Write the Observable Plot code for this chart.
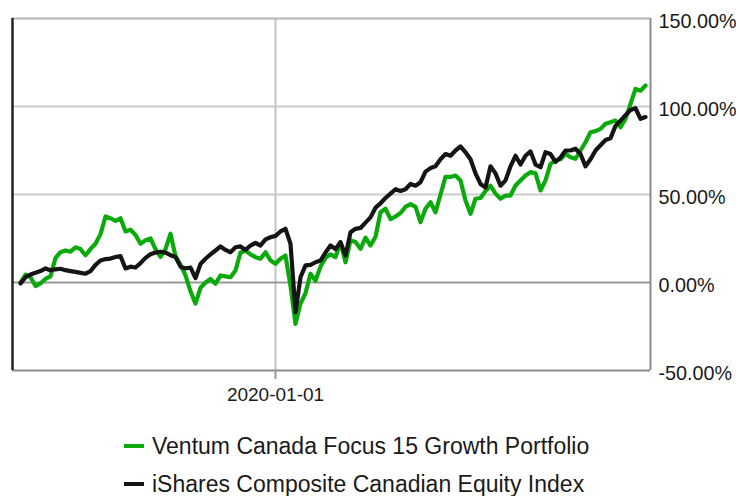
<!DOCTYPE html>
<html>
<head>
<meta charset="utf-8">
<script src="https://cdn.jsdelivr.net/npm/d3@7"></script>
<script src="https://cdn.jsdelivr.net/npm/@observablehq/plot@0.6"></script>
<style>
  html, body { margin: 0; padding: 0; background: #fff; }
  body { width: 736px; height: 496px; overflow: hidden; font-family: "Liberation Sans", Arial, sans-serif; }
  #legend { padding-left: 124px; padding-top: 12px; font-size: 23px; color: #1a1a1a; }
  .row { display: flex; align-items: center; height: 38px; white-space: nowrap; }
  .sw { display: inline-block; width: 20px; height: 4px; margin-right: 8px; }
</style>
</head>
<body>
<div id="chart"></div>
<div id="legend"></div>
<script>
const startDate = "2016-12-05";
const stepDays = 22;

const seriesNames = ["Ventum Canada Focus 15 Growth Portfolio", "iShares Composite Canadian Equity Index"];
const seriesColors = ["#0aaa0a", "#151515"];

// Cumulative return (%) - Ventum Canada Focus 15 Growth Portfolio
const fundValues = [
  0, 4.5, 3, -2, -0.5, 2, 3.5, 14, 17.2, 18.2,
  17.5, 20, 19, 15.5, 19, 22, 27.5, 37.5, 36.5, 35,
  36.5, 29, 30, 27, 22, 24, 25, 19, 14.5, 19,
  27.7, 15, 10, 4, -5, -12, -3, 0, 2, -0.7,
  4, 3.5, 3, 6.8, 17, 18, 16, 14.4, 13.5, 17.2,
  12.5, 10.6, 13.5, 15.3, -2, -23.5, -12, -6, 5, 1,
  9, 14, 16, 14.4, 22.9, 11.5, 23.9, 23, 19.1, 25.5,
  21, 26, 39.9, 41.9, 36, 37.5, 39.5, 43, 44.5, 43,
  34.3, 41.9, 45.6, 39.9, 50, 60, 60, 60.8, 58, 46.6,
  39, 47.6, 48, 52, 55, 50.5, 47.6, 49.4, 49.4, 55.1,
  58, 60.8, 62.7, 62, 52.3, 58, 67.4, 69.3, 70, 73.1,
  71.2, 70.3, 75, 79.7, 85.4, 86, 87.3, 90.2, 91.1, 92,
  88.2, 93, 101.5, 110, 109, 111.9
];

// Cumulative return (%) - iShares Composite Canadian Equity Index
const indexValues = [
  -0.5, 3, 4.5, 5.5, 6.5, 8, 7, 7.5, 7.8, 7,
  6.5, 6, 5.5, 5, 6.5, 10, 12.5, 13.3, 13.6, 14.5,
  15, 8, 9, 8.5, 11, 14, 16, 17, 17.5, 17,
  15.5, 14.5, 9, 8, 8.5, 2.5, 10.5, 13.5, 16, 18.2,
  20.5, 18.5, 17.2, 20, 20.5, 18.5, 21, 22.5, 21, 24.5,
  25.7, 26.5, 29, 30.5, 22, -16.9, 3, 9.7, 10, 11.5,
  12.5, 17, 21, 19, 22.9, 15.3, 28.5, 30.5, 31, 34,
  37, 42.5, 45, 48, 50.5, 53, 52, 53, 56, 55,
  57, 63, 65, 66, 70, 73, 72, 75, 77.3, 74,
  70, 62, 56, 54, 66, 62, 55, 58, 66, 72,
  67, 72, 74.5, 67, 65.5, 74, 73, 68.5, 71, 75,
  75, 76, 73, 66, 70, 75, 78, 81, 82, 89,
  92, 95, 98, 99, 93, 94
];

const yTicks = [-50, 0, 50, 100, 150];
const xTickLabels = ["2020-01-01"];
const yDomain = [-50, 150];

const t0 = new Date(startDate + "T00:00:00Z");
const DAY = 864e5;
const dateAt = i => new Date(+t0 + i * stepDays * DAY);
const fund = fundValues.map((v, i) => ({date: dateAt(i), value: v}));
const index = indexValues.map((v, i) => ({date: dateAt(i), value: v}));
const xDomain = [new Date(+t0 - 1.6 * stepDays * DAY), dateAt(126)];
const xTicks = xTickLabels.map(s => new Date(s + "T00:00:00Z"));

const font = '"Liberation Sans", Arial, sans-serif';

const chart = Plot.plot({
  width: 736,
  height: 415,
  marginLeft: 12,
  marginRight: 86,
  marginTop: 18,
  marginBottom: 45,
  style: {fontFamily: font, fontSize: "19px", color: "#1a1a1a", background: "#fff"},
  x: {type: "utc", domain: xDomain, label: null},
  y: {domain: yDomain, label: null},
  marks: [
    Plot.ruleX(xTicks, {stroke: "#c4c4c4", strokeWidth: 2}),
    Plot.ruleY([50, 100], {stroke: "#cccccc", strokeWidth: 2}),
    Plot.ruleY([150], {stroke: "#b4b4b4", strokeWidth: 2}),
    Plot.ruleY([0], {stroke: "#999999", strokeWidth: 2}),
    Plot.ruleY([-50], {stroke: "#8c8c8c", strokeWidth: 2}),
    Plot.ruleX([xDomain[1]], {stroke: "#8c8c8c", strokeWidth: 2}),
    Plot.axisX({ticks: xTicks, tickFormat: d3.utcFormat("%Y-%m-%d"), tickSize: 9, tickPadding: 8, stroke: "#999", strokeWidth: 2, fontSize: 19, label: null}),
    Plot.axisY({anchor: "right", ticks: yTicks, tickFormat: d => d.toFixed(2) + "%", tickSize: 0, tickPadding: 8, dy: 3, fontSize: 19.8, label: null}),
    Plot.line(fund, {x: "date", y: "value", stroke: seriesColors[0], strokeWidth: 4.2, strokeLinejoin: "round", strokeLinecap: "round"}),
    Plot.line(index, {x: "date", y: "value", stroke: seriesColors[1], strokeWidth: 4.2, strokeLinejoin: "round", strokeLinecap: "round"}),
    Plot.ruleX([xDomain[0]], {stroke: "#222222", strokeWidth: 2.5})
  ]
});
document.getElementById("chart").appendChild(chart);

const legend = document.getElementById("legend");
seriesNames.forEach((name, i) => {
  const row = document.createElement("div");
  row.className = "row";
  const sw = document.createElement("span");
  sw.className = "sw";
  sw.style.background = seriesColors[i];
  const label = document.createElement("span");
  label.textContent = name;
  row.appendChild(sw);
  row.appendChild(label);
  legend.appendChild(row);
});
</script>
</body>
</html>
